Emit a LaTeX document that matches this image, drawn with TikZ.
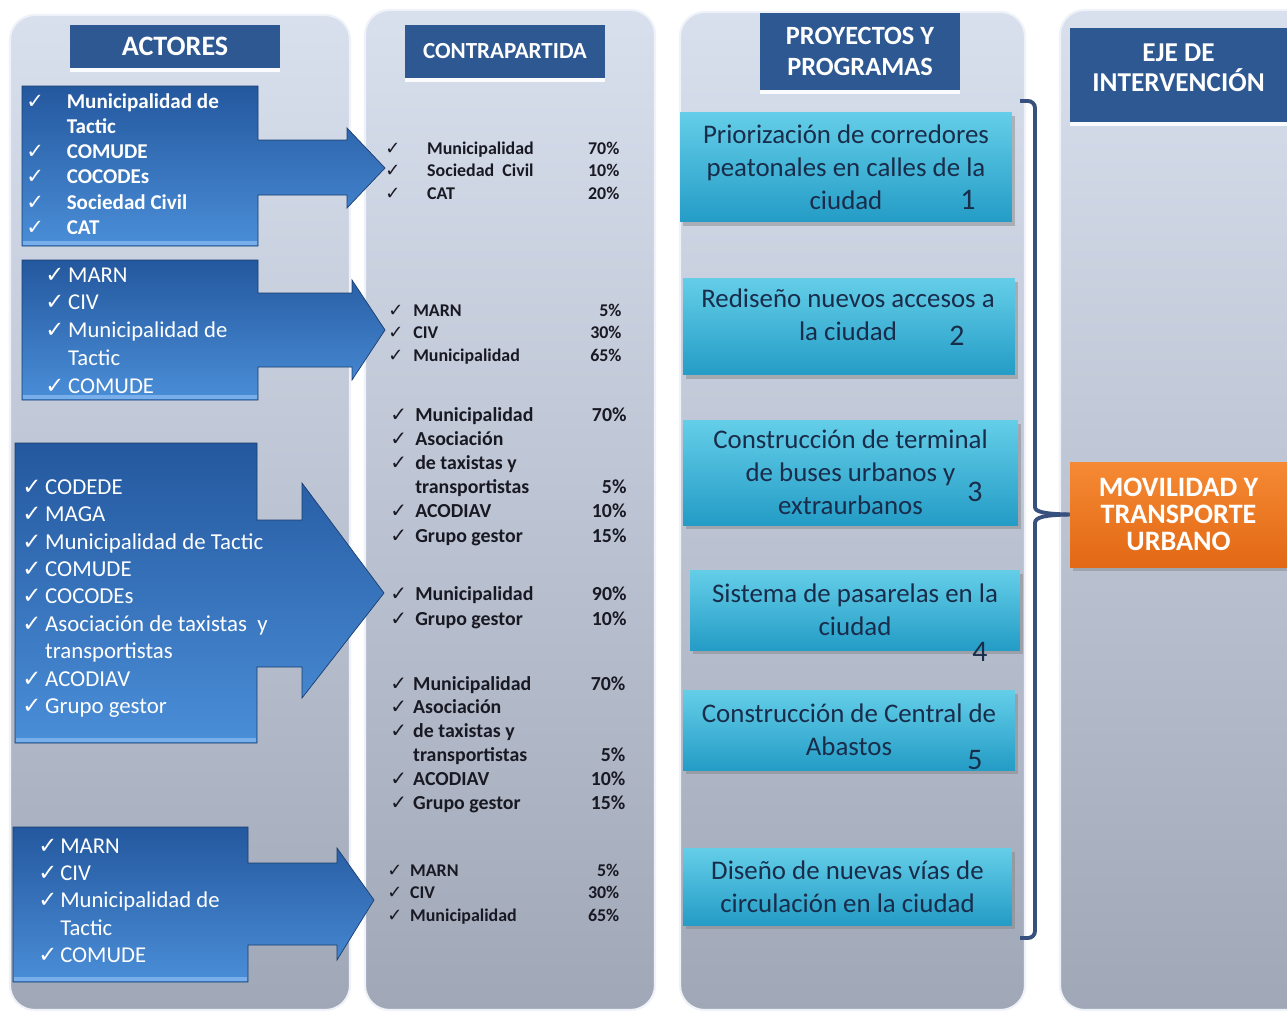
\documentclass[tikz,border=0pt]{standalone}
\usepackage{fontspec}
\setmainfont{Carlito}
\newfontfamily\symb{DejaVu Sans}
\usepackage{array}
\usetikzlibrary{shadows}

\definecolor{paneltop}{RGB}{216,223,237}
\definecolor{panelbot}{RGB}{160,167,183}
\definecolor{titleblue}{RGB}{46,88,146}
\definecolor{arrowtop}{RGB}{36,88,158}
\definecolor{arrowbot}{RGB}{74,142,216}
\definecolor{arrowlite}{RGB}{120,175,235}
\definecolor{cyantop}{RGB}{100,206,232}
\definecolor{cyanbot}{RGB}{36,156,198}
\definecolor{projtext}{RGB}{25,45,75}
\definecolor{sharetext}{RGB}{25,25,35}
\definecolor{orangetop}{RGB}{246,138,52}
\definecolor{orangebot}{RGB}{226,104,20}
\definecolor{bracecol}{RGB}{55,80,125}

\newcommand{\ck}{{\symb ✓}}

\begin{document}
\begin{tikzpicture}[x=0.02cm, y=-0.02cm,
  panel/.style={rounded corners=14pt, top color=paneltop, bottom color=panelbot, draw=white!60!paneltop, line width=1.2pt},
  titlebox/.style={fill=titleblue, text=white, align=center, inner sep=0pt,
    drop shadow={shadow xshift=0pt, shadow yshift=-2.5pt, fill=white, opacity=0.9}},
  actor/.style={top color=arrowtop, bottom color=arrowbot, draw=arrowtop!70!black, line width=0.4pt},
  actortext/.style={anchor=base west, inner sep=0pt, text=white},
  share/.style={anchor=base west, inner sep=0pt, text=sharetext},
  project/.style={top color=cyantop, bottom color=cyanbot, text=projtext, align=center, inner sep=0pt,
    font=\fontsize{15.3}{18.7}\selectfont,
    drop shadow={shadow xshift=1.5pt, shadow yshift=-2pt, opacity=0.45}},
  projnum/.style={text=projtext, font=\fontsize{17}{20}\selectfont, inner sep=0pt},
  ejebox/.style={top color=orangetop, bottom color=orangebot, text=white, align=center, inner sep=0pt,
    font=\bfseries\fontsize{16}{15.5}\selectfont,
    drop shadow={shadow xshift=1.5pt, shadow yshift=-2pt, opacity=0.45}},
  bracket/.style={draw=bracecol, line width=2.2pt, rounded corners=4pt}
]
\useasboundingbox (0,0) rectangle (1287,1011);
\fill[white] (0,0) rectangle (1287,1011);

% columns
\shade[panel] (10,15) rectangle (350,1010);
\shade[panel] (365,10) rectangle (655,1010);
\shade[panel] (680,12) rectangle (1025,1010);
\shade[panel] (1060,10) rectangle (1310,1010);

% headers
\node[titlebox, minimum width=4.2cm, minimum height=0.86cm, font=\bfseries\fontsize{16}{19}\selectfont] (actores) at (175,46.5) {ACTORES};
\node[titlebox, minimum width=4cm, minimum height=1.06cm, font=\bfseries\fontsize{13.1}{16}\selectfont] (contra) at (505,51.5) {CONTRAPARTIDA};
\node[titlebox, minimum width=4cm, minimum height=1.54cm, font=\bfseries\fontsize{15}{18}\selectfont] (proyectos) at (860,51.5) {PROYECTOS Y\\PROGRAMAS};
\node[titlebox, minimum width=4.34cm, minimum height=1.88cm] (eje) at (1178.5,75) {};
\node[text=white, align=center, inner sep=0pt, font=\bfseries\fontsize{15.5}{17}\selectfont] (ejetxt) at (1178.5,68) {EJE DE\\INTERVENCIÓN};

% actor arrows
\shade[actor] (22,86) -- (258,86) -- (258,140) -- (347,140) -- (347,128) -- (385,168) -- (347,208) -- (347,195) -- (258,195) -- (258,246) -- (22,246) -- cycle;
\draw[arrowlite, line width=2.5pt] (23,243) -- (257,243);
\shade[actor] (22,260) -- (258,260) -- (258,293) -- (352,293) -- (352,280) -- (385,330) -- (352,380) -- (352,367) -- (258,367) -- (258,400) -- (22,400) -- cycle;
\draw[arrowlite, line width=2.5pt] (23,397) -- (257,397);
\shade[actor] (15,443) -- (257,443) -- (257,520) -- (302,520) -- (302,483) -- (384,593) -- (302,698) -- (302,667) -- (257,667) -- (257,743) -- (15,743) -- cycle;
\draw[arrowlite, line width=2.5pt] (16,740) -- (256,740);
\shade[actor] (13,827) -- (248,827) -- (248,863) -- (337,863) -- (337,848) -- (374,900) -- (337,960) -- (337,945) -- (248,945) -- (248,982) -- (13,982) -- cycle;
\draw[arrowlite, line width=2.5pt] (14,979) -- (247,979);

% actor lists
\node[actortext, font=\bfseries\fontsize{12}{14.4}\selectfont] (act1) at (26,108) {\begin{tabular}[t]{@{}p{23pt}@{}l@{}}
\ck & Municipalidad de\\ & Tactic\\ \ck & COMUDE\\ \ck & COCODEs\\ \ck & Sociedad Civil\\ \ck & CAT
\end{tabular}};
\node[actortext, font=\fontsize{12.9}{15.9}\selectfont] (act2) at (45,282) {\begin{tabular}[t]{@{}p{13pt}@{}l@{}}
\ck & MARN\\ \ck & CIV\\ \ck & Municipalidad de\\ & Tactic\\ \ck & COMUDE
\end{tabular}};
\node[actortext, font=\fontsize{13}{15.65}\selectfont] (act3) at (22,494) {\begin{tabular}[t]{@{}p{13pt}@{}l@{}}
\ck & CODEDE\\ \ck & MAGA\\ \ck & Municipalidad de Tactic\\ \ck & COMUDE\\ \ck & COCODEs\\
\ck & Asociación de taxistas~ y\\ & transportistas\\ \ck & ACODIAV\\ \ck & Grupo gestor
\end{tabular}};
\node[actortext, font=\fontsize{12.9}{15.6}\selectfont] (act4) at (38,853) {\begin{tabular}[t]{@{}p{12.5pt}@{}l@{}}
\ck & MARN\\ \ck & CIV\\ \ck & Municipalidad de\\ & Tactic\\ \ck & COMUDE
\end{tabular}};

% contrapartidas
\node[share, font=\bfseries\fontsize{10.2}{13}\selectfont] (share1) at (385,154) {\begin{tabular}[t]{@{}p{23.8pt}@{}p{84pt}@{}>{\raggedleft\arraybackslash}p{25.4pt}@{}}
\ck & Municipalidad & 70\%\\ \ck & Sociedad~ Civil & 10\%\\ \ck & CAT & 20\%
\end{tabular}};
\node[share, font=\bfseries\fontsize{10.2}{13}\selectfont] (share2) at (388,316) {\begin{tabular}[t]{@{}p{14.2pt}@{}p{93pt}@{}>{\raggedleft\arraybackslash}p{25.5pt}@{}}
\ck & MARN & 5\%\\ \ck & CIV & 30\%\\ \ck & Municipalidad & 65\%
\end{tabular}};
\node[share, font=\bfseries\fontsize{11.3}{13.8}\selectfont] (share3) at (390,421) {\begin{tabular}[t]{@{}p{14.2pt}@{}p{94.7pt}@{}>{\raggedleft\arraybackslash}p{25.5pt}@{}}
\ck & Municipalidad & 70\%\\ \ck & Asociación & \\ \ck & de taxistas y & \\ & transportistas & 5\%\\
\ck & ACODIAV & 10\%\\ \ck & Grupo gestor & 15\%
\end{tabular}};
\node[share, font=\bfseries\fontsize{11.3}{14.4}\selectfont] (share4) at (390,600) {\begin{tabular}[t]{@{}p{14.2pt}@{}p{94.7pt}@{}>{\raggedleft\arraybackslash}p{25.5pt}@{}}
\ck & Municipalidad & 90\%\\ \ck & Grupo gestor & 10\%
\end{tabular}};
\node[share, font=\bfseries\fontsize{11.3}{13.6}\selectfont] (share5) at (390,690) {\begin{tabular}[t]{@{}p{13pt}@{}p{95.8pt}@{}>{\raggedleft\arraybackslash}p{25pt}@{}}
\ck & Municipalidad & 70\%\\ \ck & Asociación & \\ \ck & de taxistas y & \\ & transportistas & 5\%\\
\ck & ACODIAV & 10\%\\ \ck & Grupo gestor & 15\%
\end{tabular}};
\node[share, font=\bfseries\fontsize{10.2}{13}\selectfont] (share6) at (387,876) {\begin{tabular}[t]{@{}p{13pt}@{}p{94pt}@{}>{\raggedleft\arraybackslash}p{25pt}@{}}
\ck & MARN & 5\%\\ \ck & CIV & 30\%\\ \ck & Municipalidad & 65\%
\end{tabular}};

% proyectos
\node[project, minimum width=6.64cm, minimum height=2.2cm] (p1) at (846,167) {Priorización de corredores\\peatonales en calles de la\\ciudad};
\node[project, minimum width=6.64cm, minimum height=1.94cm] (p2) at (849,326.5) {};
\node[text=projtext, align=center, inner sep=0pt, font=\fontsize{15.3}{18.7}\selectfont] (p2txt) at (848,314.5) {Rediseño nuevos accesos a\\la ciudad};
\node[project, minimum width=6.7cm, minimum height=2.1cm] (p3) at (850.5,472.5) {Construcción de terminal\\de buses urbanos y\\extraurbanos};
\node[project, minimum width=6.6cm, minimum height=1.6cm] (p4) at (855,610) {Sistema de pasarelas en la\\ciudad};
\node[project, minimum width=6.64cm, minimum height=1.6cm] (p5) at (849,730) {Construcción de Central de\\Abastos};
\node[project, minimum width=6.58cm, minimum height=1.54cm] (p6) at (847.5,886.5) {Diseño de nuevas vías de\\circulación en la ciudad};

\node[projnum] (n1) at (968,200) {1};
\node[projnum] (n2) at (957,336) {2};
\node[projnum] (n3) at (975,492) {3};
\node[projnum] (n4) at (980,652) {4};
\node[projnum] (n5) at (975,760) {5};

% eje
\node[ejebox, minimum width=4.34cm, minimum height=2.1cm] (movil) at (1178.5,514.5) {MOVILIDAD Y\\TRANSPORTE\\URBANO};

% llave
\coordinate (btop) at (1020,101);
\coordinate (bbot) at (1020,938);
\draw[bracket] (btop) -- (1035,101) -- (1035,500) .. controls (1035,512) and (1045,514) .. (movil.west);
\draw[bracket] (bbot) -- (1035,938) -- (1035,530) .. controls (1035,517) and (1045,515) .. (movil.west);
\end{tikzpicture}
\end{document}
